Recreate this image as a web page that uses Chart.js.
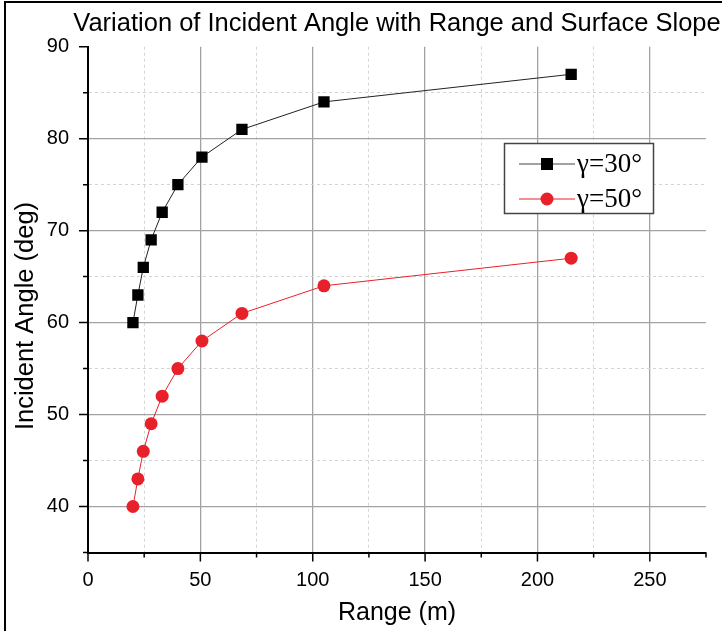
<!DOCTYPE html>
<html>
<head>
<meta charset="utf-8">
<script src="https://cdn.jsdelivr.net/npm/chart.js@4/dist/chart.umd.min.js"></script>
<style>
  html, body { margin: 0; padding: 0; background: #fff; }
  #wrap { position: relative; width: 722px; height: 631px; overflow: hidden; }
  #frame { position: absolute; left: 4px; top: 1px; width: 800px; height: 800px;
           border-left: 2px solid #000; border-top: 2px solid #000; pointer-events: none; }
  canvas { position: absolute; left: 0; top: 0; }
</style>
</head>
<body>
<div id="wrap">
  <canvas id="c" width="722" height="631"></canvas>
  <div id="frame"></div>
</div>
<script>
// ---- data ----
const rangeM   = [20, 22.2, 24.6, 28.1, 33, 40, 50.7, 68.5, 105, 215];
const gamma30  = [60, 63, 66, 69, 72, 75, 78, 81, 84, 87];
const gamma50  = [40, 43, 46, 49, 52, 55, 58, 61, 64, 67];
const seriesLabels = ['\u03B3=30\u00B0', '\u03B3=50\u00B0'];
const xTickValues = [0, 50, 100, 150, 200, 250];
const yTickValues = [40, 50, 60, 70, 80, 90];
const titleText = 'Variation of Incident Angle with Range and Surface Slope';
const xTitle = 'Range (m)';
const yTitle = 'Incident Angle (deg)';

const SANS = "'Liberation Sans', Arial, sans-serif";
const SERIF = "'Liberation Serif', 'Times New Roman', serif";
const RED = '#e8202a';

const pts = (ys) => rangeM.map((x, i) => ({ x: x, y: ys[i] }));

const gridColor = (rule) => (ctx) => {
  const v = ctx.tick ? ctx.tick.value : null;
  if (v === null) return 'rgba(0,0,0,0)';
  if (rule.isEdge(v)) return 'rgba(0,0,0,0)';
  return rule.isMajor(v) ? '#a2a2a2' : '#d4d4d4';
};
const gridDash = (rule) => (ctx) => {
  const v = ctx.tick ? ctx.tick.value : null;
  if (v === null) return [];
  return rule.isMajor(v) ? [] : [3, 3];
};
const gridWidth = (rule) => (ctx) => {
  const v = ctx.tick ? ctx.tick.value : null;
  if (v === null) return 1;
  return rule.isMajor(v) ? 1.3 : 1;
};
const xRule = { isMajor: v => xTickValues.includes(v), isEdge: v => v === 0 || v === 275 };
const yRule = { isMajor: v => yTickValues.includes(v), isEdge: v => v === 35 || v === 90 };

const decorPlugin = {
  id: 'decor',
  afterDraw(chart) {
    const ctx = chart.ctx;
    const xs = chart.scales.x, ys = chart.scales.y;
    const ca = chart.chartArea;
    ctx.save();
    // tick marks (outward), major longer than minor
    ctx.strokeStyle = '#000';
    ctx.lineWidth = 1.5;
    ctx.beginPath();
    for (let v = 0; v <= 275; v += 25) {
      const px = xs.getPixelForValue(v);
      const len = xTickValues.includes(v) ? 9 : 5;
      ctx.moveTo(px, ca.bottom);
      ctx.lineTo(px, ca.bottom + len);
    }
    for (let v = 35; v <= 90; v += 5) {
      const py = ys.getPixelForValue(v);
      const len = yTickValues.includes(v) ? 9 : 5;
      ctx.moveTo(ca.left, py);
      ctx.lineTo(ca.left - len, py);
    }
    ctx.stroke();

    // title
    ctx.fillStyle = '#000';
    ctx.font = '25.5px ' + SANS;
    ctx.textAlign = 'center';
    ctx.textBaseline = 'alphabetic';
    ctx.fillText(titleText, (ca.left + ca.right) / 2, 31);

    // x title
    ctx.font = '25px ' + SANS;
    ctx.fillText(xTitle, (ca.left + ca.right) / 2, 620);

    // y title
    ctx.save();
    ctx.translate(33, 316);
    ctx.rotate(-Math.PI / 2);
    ctx.font = '25.5px ' + SANS;
    ctx.textBaseline = 'alphabetic';
    ctx.fillText(yTitle, 0, 0);
    ctx.restore();

    // legend box
    const bx = 504.5, by = 143.5, bw = 149, bh = 70;
    ctx.fillStyle = '#fff';
    ctx.fillRect(bx, by, bw, bh);
    ctx.strokeStyle = '#444';
    ctx.lineWidth = 1.5;
    ctx.strokeRect(bx, by, bw, bh);
    const rows = [
      { y: 164, color: '#000', line: '#444', style: 'rect' },
      { y: 199, color: RED, line: RED, style: 'circle' }
    ];
    rows.forEach((r, i) => {
      ctx.strokeStyle = r.line;
      ctx.lineWidth = 1;
      ctx.beginPath();
      ctx.moveTo(519, r.y);
      ctx.lineTo(575, r.y);
      ctx.stroke();
      ctx.fillStyle = r.color;
      if (r.style === 'rect') {
        ctx.fillRect(547 - 6, r.y - 6, 12, 12);
      } else {
        ctx.beginPath();
        ctx.arc(547, r.y, 6.5, 0, Math.PI * 2);
        ctx.fill();
      }
      ctx.fillStyle = '#000';
      ctx.font = '27px ' + SERIF;
      ctx.textAlign = 'left';
      ctx.textBaseline = 'middle';
      ctx.fillText(seriesLabels[i], 577, r.y + 1);
    });
    ctx.restore();
  }
};

new Chart(document.getElementById('c'), {
  type: 'line',
  data: {
    datasets: [
      {
        label: seriesLabels[0],
        data: pts(gamma30),
        borderColor: '#222',
        borderWidth: 1,
        backgroundColor: '#000',
        pointStyle: 'rect',
        pointRadius: 8,
        pointBorderWidth: 0,
        pointBackgroundColor: '#000',
        tension: 0
      },
      {
        label: seriesLabels[1],
        data: pts(gamma50),
        borderColor: RED,
        borderWidth: 1,
        backgroundColor: RED,
        pointStyle: 'circle',
        pointRadius: 6.5,
        pointBorderWidth: 0,
        pointBackgroundColor: RED,
        tension: 0
      }
    ]
  },
  options: {
    responsive: false,
    animation: false,
    events: [],
    layout: { padding: { top: 46.7, right: 13.7, left: 0, bottom: 0 } },
    plugins: { legend: { display: false }, title: { display: false }, tooltip: { enabled: false } },
    scales: {
      x: {
        type: 'linear',
        min: 0, max: 275,
        afterFit: (s) => { s.height = 631 - 552.5; },
        afterBuildTicks: (s) => { const t = []; for (let v = 0; v <= 275; v += 25) t.push({ value: v }); s.ticks = t; },
        ticks: {
          autoSkip: false,
          maxRotation: 0,
          padding: 16,
          color: '#000',
          font: { family: SANS, size: 20 },
          callback: (v) => xTickValues.includes(v) ? String(v) : ''
        },
        grid: { drawTicks: false, color: gridColor(xRule), lineWidth: gridWidth(xRule) },
        border: { display: true, color: '#000', width: 2, dash: gridDash(xRule) }
      },
      y: {
        type: 'linear',
        min: 35, max: 90,
        afterFit: (s) => { s.width = 88; },
        afterBuildTicks: (s) => { const t = []; for (let v = 35; v <= 90; v += 5) t.push({ value: v }); s.ticks = t; },
        ticks: {
          autoSkip: false,
          padding: 19,
          color: '#000',
          font: { family: SANS, size: 20 },
          callback: (v) => yTickValues.includes(v) ? String(v) : ''
        },
        grid: { drawTicks: false, color: gridColor(yRule), lineWidth: gridWidth(yRule) },
        border: { display: true, color: '#000', width: 2, dash: gridDash(yRule) }
      }
    }
  },
  plugins: [decorPlugin]
});
</script>
</body>
</html>
